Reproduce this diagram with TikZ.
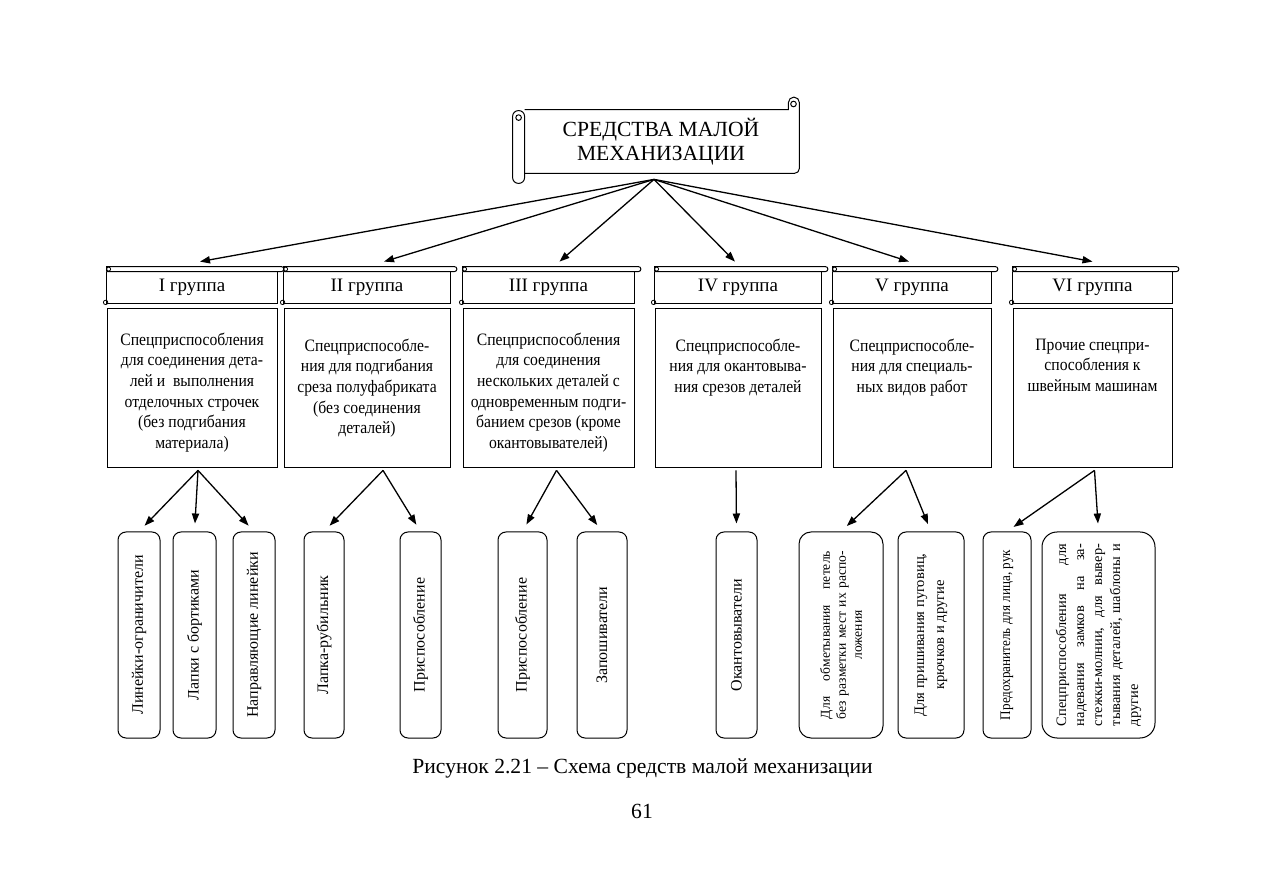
\documentclass[tikz,border=0pt]{standalone}
\usepackage{fontspec}
\setmainfont{Liberation Serif}
\newfontfamily\condserif[FakeStretch=0.9]{Liberation Serif}
\usetikzlibrary{positioning,calc,arrows.meta}

\tikzset{
  arr/.style={-{Triangle[length=5pt,width=3.6pt]}, line width=0.65pt},
  grpbox/.style={draw, line width=0.5pt, minimum height=79.5pt, inner sep=0pt},
  grptxt/.style={align=center, inner sep=0pt, font=\condserif\fontsize{8.7}{10.3}\selectfont},
  grphead/.style={minimum height=15.5pt, inner sep=0pt, font=\fontsize{9.5}{11}\selectfont},
  leaf/.style={draw, rounded corners=4pt, line width=0.5pt, minimum height=103pt, inner sep=0pt, font=\fontsize{8}{9.5}\selectfont},
}

\begin{document}
\begin{tikzpicture}[x=0.5pt,y=-0.5pt]
\useasboundingbox (0,0) rectangle (1264,881);

% title scroll
\node[minimum width=136pt, minimum height=31.5pt, align=center, inner sep=0pt,
      font=\fontsize{10.8}{12}\selectfont] (top) at (661,141.5) {СРЕДСТВА МАЛОЙ\\МЕХАНИЗАЦИИ};
\draw[line width=0.5pt] (top.north west) -- ($(top.north east)+(-9,0)$) -- ++(0,-7)
  arc[start angle=180,end angle=0,radius=2.75pt] -- ($(top.south east)+(2,-5)$)
  arc[start angle=0,end angle=-90,radius=2.5pt] -- (top.south west);
\draw[line width=0.5pt] (793.5,104) circle[radius=1.4pt];
\draw[line width=0.5pt, rounded corners=2.9pt] ($(top.north west)+(-12,1)$) rectangle ($(top.south west)+(0,10)$);
\draw[line width=0.5pt] ($(top.north west)+(-6,8)$) circle[radius=1.4pt];
\coordinate (hub) at ($(top.south)+(-7,6)$);

% group headers
\node[grphead, minimum width=85pt] (h1) at (192,287.5) {I группа};
\node[grphead, minimum width=83pt] (h2) at (367,287.5) {II группа};
\node[grphead, minimum width=85.5pt] (h3) at (548.5,287.5) {III группа};
\node[grphead, minimum width=83pt] (h4) at (738,287.5) {IV группа};
\node[grphead, minimum width=79pt] (h5) at (912,287.5) {V группа};
\node[grphead, minimum width=79.5pt] (h6) at (1092.5,287.5) {VI группа};
\foreach \h in {h1,h2,h3,h4,h5,h6} {
  \draw[line width=0.5pt] (\h.north west) -- (\h.south west) -- (\h.south east) -- (\h.north east);
  \draw[line width=0.5pt] (\h.north west) -- ++(0,-5) -- ($(\h.north east)+(4,-5)$)
    arc[start angle=90,end angle=-90,radius=1.25pt] -- (\h.north west);
  \draw[line width=0.4pt] ($(\h.north west)+(2,-2.5)$) circle[radius=1pt];
  \draw[line width=0.4pt] ($(\h.south west)+(-1,-1)$) circle[radius=1.1pt];
}

% group boxes
\node[grpbox, minimum width=85pt, below=2.5pt of h1] (b1) {};
\node[grpbox, minimum width=83pt, below=2.5pt of h2] (b2) {};
\node[grpbox, minimum width=85.5pt, below=2.5pt of h3] (b3) {};
\node[grpbox, minimum width=83pt, below=2.5pt of h4] (b4) {};
\node[grpbox, minimum width=79pt, below=2.5pt of h5] (b5) {};
\node[grpbox, minimum width=79.5pt, below=2.5pt of h6] (b6) {};

\node[grptxt, below=12pt of b1.north] (t1) {Спецприспособления\\для соединения дета-\\лей и\ \ выполнения\\отделочных строчек\\(без подгибания\\материала)};
\node[grptxt, below=15pt of b2.north] (t2) {Спецприспособле-\\ния для подгибания\\среза полуфабриката\\(без соединения\\деталей)};
\node[grptxt, below=12pt of b3.north] (t3) {Спецприспособления\\для соединения\\нескольких деталей с\\одновременным подги-\\банием срезов (кроме\\окантовывателей)};
\node[grptxt, below=15pt of b4.north] (t4) {Спецприспособле-\\ния для окантовыва-\\ния срезов деталей};
\node[grptxt, below=15pt of b5.north] (t5) {Спецприспособле-\\ния для специаль-\\ных видов работ};
\node[grptxt, below=15pt of b6.north] (t6) {Прочие спецпри-\\способления к\\швейным машинам};

% leaves
\node[leaf, minimum width=21pt] (l1) at (139,635) {\rotatebox{90}{Линейки-ограничители}};
\node[leaf, minimum width=21.5pt] (l2) at (194.5,635) {\rotatebox{90}{Лапки с бортиками}};
\node[leaf, minimum width=21pt] (l3) at (254,635) {\rotatebox{90}{Направляющие линейки}};
\node[leaf, minimum width=20pt] (l4) at (324,635) {\rotatebox{90}{Лапка-рубильник}};
\node[leaf, minimum width=20.5pt] (l5) at (420.5,635) {\rotatebox{90}{Приспособление}};
\node[leaf, minimum width=24.5pt] (l6) at (522.5,635) {\rotatebox{90}{Приспособление}};
\node[leaf, minimum width=25pt] (l7) at (602,635) {\rotatebox{90}{Запошиватели}};
\node[leaf, minimum width=20.5pt] (l8) at (736.5,635) {\rotatebox{90}{Окантовыватели}};
\node[leaf, minimum width=42pt, rounded corners=6pt] (l9) at (841,635)
  {\rotatebox{90}{\parbox{84pt}{\fontsize{6.8}{8}\selectfont\centering Для\hfill обметывания\hfill петель\\без\hfill разметки\hfill мест\hfill их\hfill распо-\\ложения}}};
\node[leaf, minimum width=33pt] (l10) at (931,635)
  {\rotatebox{90}{\parbox{86pt}{\fontsize{7.3}{10}\selectfont\centering Для пришивания пуговиц,\\крючков и другие}}};
\node[leaf, minimum width=24pt] (l11) at (1007,635) {\rotatebox{90}{\condserif\fontsize{7.3}{9}\selectfont Предохранитель для лица, рук}};
\node[leaf, minimum width=56.5pt, rounded corners=7.5pt] (l12) at (1098.5,635)
  {\rotatebox{90}{\parbox{91pt}{\fontsize{7.2}{9}\selectfont\raggedright Спецприспособления\hfill для\\надевания\hfill замков\hfill на\hfill за-\\стежки-молнии,\hfill для\hfill вывер-\\тывания\hfill деталей,\hfill шаблоны\hfill и\\другие}}};

% arrows from the title
\draw[arr] (hub) -- ($(h1.north)+(8,-10)$);
\draw[arr] (hub) -- ($(h2.north)+(17,-10)$);
\draw[arr] (hub) -- ($(h3.north)+(11,-10)$);
\draw[arr] (hub) -- ($(h4.north)+(-3,-10)$);
\draw[arr] (hub) -- ($(h5.north)+(-3,-10)$);
\draw[arr] (hub) -- ($(h6.north)+(0,-10)$);

% arrows to the leaves
\coordinate (s1) at ($(b1.south)+(6,2)$);
\coordinate (s2) at ($(b2.south)+(16,2)$);
\coordinate (s3) at ($(b3.south)+(8,2)$);
\coordinate (s4) at ($(b4.south)+(-2,2)$);
\coordinate (s5) at ($(b5.south)+(-6,2)$);
\coordinate (s6) at ($(b6.south)+(2,2)$);
\foreach \s/\l in {s1/l1,s1/l2,s1/l3,s2/l4,s2/l5,s3/l6,s3/l7,s4/l8,s5/l9,s5/l10,s6/l11,s6/l12}
  \draw[arr, shorten >=4pt] (\s) -- (\l.north);

% caption
\node[anchor=base, font=\fontsize{10.8}{13}\selectfont] (cap) at (642.5,773) {Рисунок 2.21 – Схема средств малой механизации};
\node[anchor=base, font=\fontsize{10.8}{13}\selectfont] (pg) at (642,818) {61};
\end{tikzpicture}
\end{document}
